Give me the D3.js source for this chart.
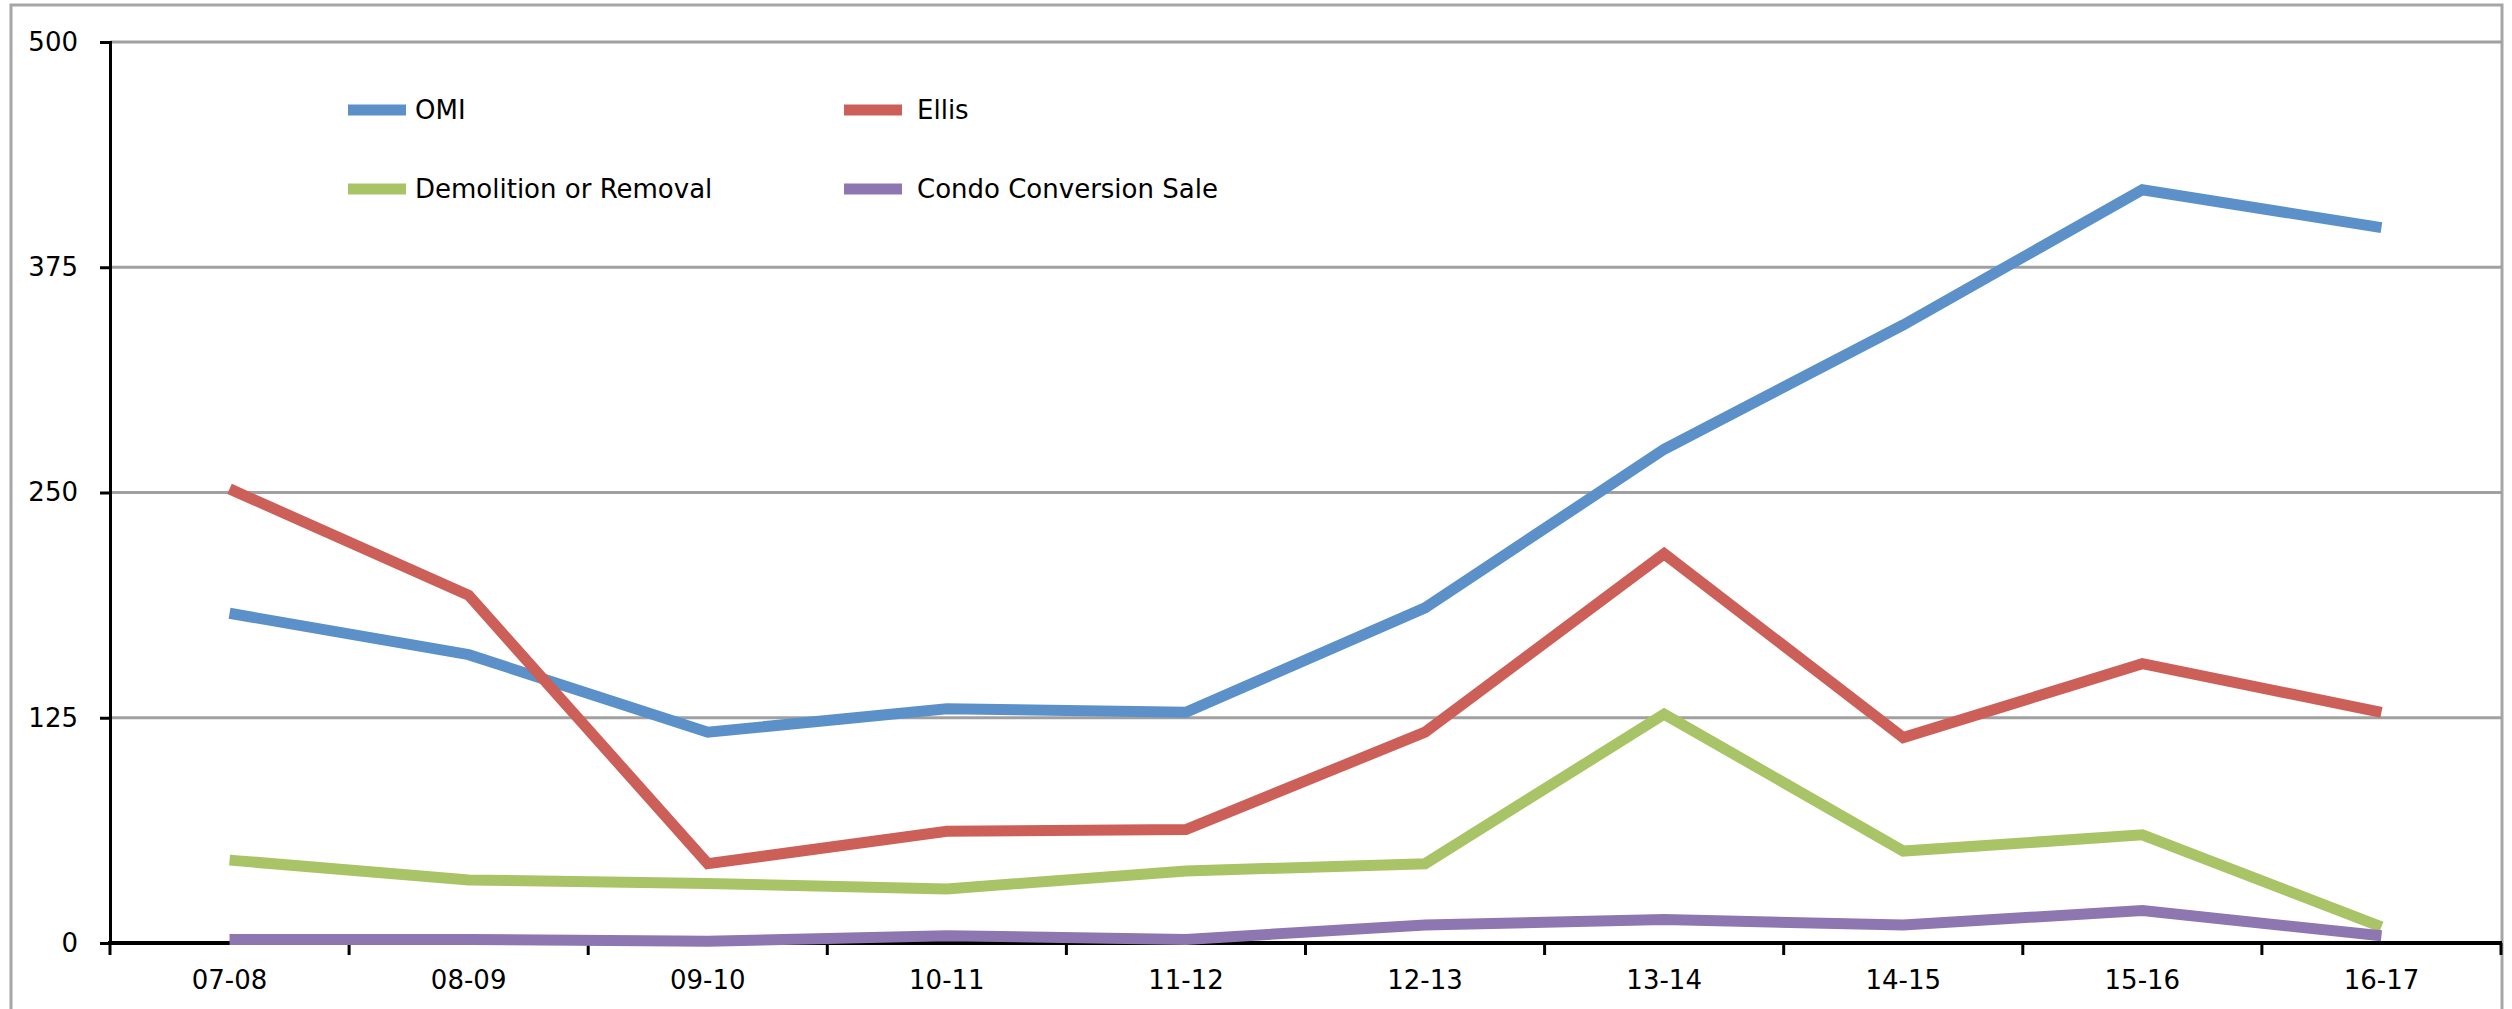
<!DOCTYPE html>
<html>
<head>
<meta charset="utf-8">
<script src="https://cdn.jsdelivr.net/npm/d3@7"></script>
<style>
  body { margin: 0; background: #fff; }
  text { font-family: "DejaVu Sans", sans-serif; fill: #000; }
</style>
</head>
<body>
<script>
let width = 2512;
let height = 1009;

// data
const years = ['07-08','08-09','09-10','10-11','11-12','12-13','13-14','14-15','15-16','16-17'];
const omi = [183, 160, 117, 130, 128, 186, 274, 343, 418, 397];
const ellis = [252, 193, 44, 62, 63, 117, 216, 114, 155, 128];
const demolition = [46, 35, 33, 30, 40, 44, 127, 51, 60, 9];
const condo = [2, 2, 1, 4, 2, 10, 13, 10, 18, 4];
const yTicks = [0, 125, 250, 375, 500];

const seriesNames = ['OMI', 'Ellis', 'Demolition or Removal', 'Condo Conversion Sale'];
const seriesColors = ['#5b91c8', '#cc6059', '#a8c467', '#8e76b1'];
const seriesValues = [omi, ellis, demolition, condo];

const svg = d3.select('body')
  .append('svg')
  .attr('width', width)
  .attr('height', height);

// outer frame
svg.append('rect')
  .attr('x', 11).attr('y', 5)
  .attr('width', 2491).attr('height', 1030)
  .attr('fill', '#fff')
  .attr('stroke', '#a6a6a6')
  .attr('stroke-width', 3);

let x = d3.scaleBand()
  .domain(years)
  .range([110, 2501])
  .padding(0);

let y = d3.scaleLinear()
  .domain([0, 500])
  .range([943, 42]);

// gridlines
svg.append('g')
  .selectAll('line').data(yTicks.filter(d => d > 0))
  .enter().append('line')
    .attr('x1', 110).attr('x2', 2502)
    .attr('y1', d => y(d)).attr('y2', d => y(d))
    .attr('stroke', '#a0a0a0')
    .attr('stroke-width', 3);

// y axis
let yAxis = svg.append('g')
  .attr('transform', 'translate(110,0)')
  .call(d3.axisLeft(y).tickValues(yTicks).tickSize(10).tickPadding(22));
yAxis.select('.domain').attr('stroke', '#000').attr('stroke-width', 3);
yAxis.selectAll('.tick line').attr('stroke', '#000').attr('stroke-width', 3);
yAxis.selectAll('text')
  .style('font-family', '"DejaVu Sans", sans-serif')
  .style('font-size', '26px');

// x axis: labels at band centres, ticks at band edges
let xAxis = svg.append('g')
  .attr('transform', 'translate(0,943)')
  .call(d3.axisBottom(x).tickSize(0).tickPadding(28));
xAxis.select('.domain').remove();
xAxis.selectAll('text')
  .style('font-family', '"DejaVu Sans", sans-serif')
  .style('font-size', '26px');

svg.append('line')
  .attr('x1', 108).attr('x2', 2502)
  .attr('y1', 943).attr('y2', 943)
  .attr('stroke', '#000').attr('stroke-width', 4);

let edges = years.map(d => x(d)).concat([x(years[years.length - 1]) + x.bandwidth()]);
svg.append('g')
  .selectAll('line').data(edges)
  .enter().append('line')
    .attr('x1', d => d).attr('x2', d => d)
    .attr('y1', 943).attr('y2', 955)
    .attr('stroke', '#000')
    .attr('stroke-width', 3);

// series lines
let line = d3.line()
  .x((d, i) => x(years[i]) + x.bandwidth() / 2)
  .y(d => y(d));

svg.append('g')
  .selectAll('path').data(seriesValues)
  .enter().append('path')
    .attr('d', d => line(d))
    .attr('fill', 'none')
    .attr('stroke', (d, i) => seriesColors[i])
    .attr('stroke-width', 11)
    .attr('stroke-linejoin', 'miter')
    .attr('stroke-linecap', 'butt');

// legend
let legendPos = [[348, 110], [844, 110], [348, 189], [844, 189]];
let legend = svg.append('g')
  .selectAll('g').data(seriesNames)
  .enter().append('g')
    .attr('transform', (d, i) => 'translate(' + legendPos[i][0] + ',' + legendPos[i][1] + ')');

legend.append('line')
  .attr('x1', 0).attr('x2', 58)
  .attr('y1', 0).attr('y2', 0)
  .attr('stroke', (d, i) => seriesColors[i])
  .attr('stroke-width', 11);

legend.append('text')
  .attr('x', (d, i) => i % 2 ? 73 : 67).attr('y', 0)
  .attr('dy', '0.35em')
  .style('font-size', '26px')
  .text(d => d);
</script>
</body>
</html>
